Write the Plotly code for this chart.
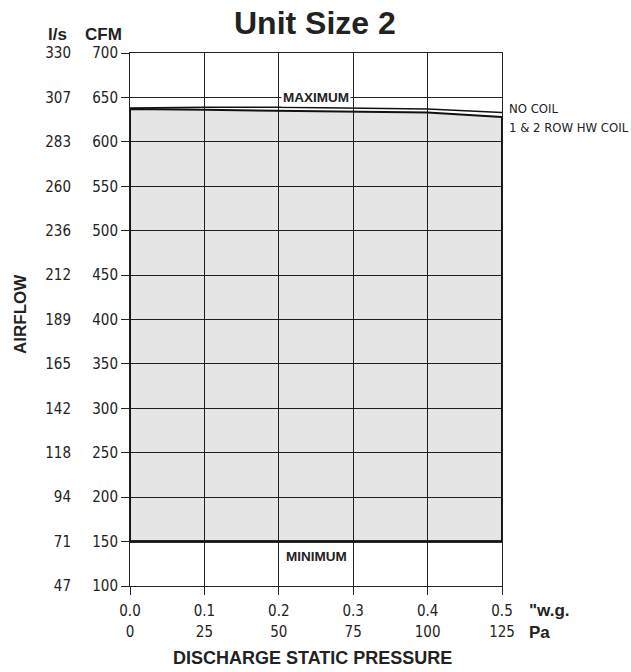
import plotly.graph_objects as go

# ---- data ----
pressure_wg = [0.0, 0.1, 0.2, 0.3, 0.4, 0.5]
pressure_pa_ticks = [0, 25, 50, 75, 100, 125]
no_coil_cfm = [638, 639, 639, 638, 637, 633]
hw_coil_cfm = [637, 636, 635, 634, 633, 628]
minimum_cfm = [150, 150, 150, 150, 150, 150]
cfm_ticks = [100, 150, 200, 250, 300, 350, 400, 450, 500, 550, 600, 650, 700]
ls_ticks = [47, 71, 94, 118, 142, 165, 189, 212, 236, 260, 283, 307, 330]
wg_tick_labels = ["0.0", "0.1", "0.2", "0.3", "0.4", "0.5"]

NARROW = "DejaVu Sans Condensed, Liberation Sans Narrow, sans-serif"
BOLD = "Liberation Sans, Arial, Helvetica, sans-serif"
TXT = "#222222"

FIG_W, FIG_H = 631, 672
ML, MT = 130, 53
MR = FIG_W - 502
MB = FIG_H - 586

fig = go.Figure()

# shaded operating region (closed polygon)
poly_x = [pressure_wg[0]] + pressure_wg + [pressure_wg[-1]] + pressure_wg[::-1]
poly_y = [minimum_cfm[0]] + hw_coil_cfm + [minimum_cfm[-1]] + minimum_cfm[::-1]
fig.add_trace(go.Scatter(x=poly_x, y=poly_y, mode="lines", fill="toself",
                         fillcolor="rgba(0,0,0,0.10)",
                         line=dict(color="#111111", width=2), hoverinfo="skip",
                         showlegend=False))
fig.add_trace(go.Scatter(x=pressure_wg, y=no_coil_cfm, mode="lines",
                         line=dict(color="#111111", width=1.6), showlegend=False))
fig.add_trace(go.Scatter(x=pressure_wg, y=minimum_cfm, mode="lines",
                         line=dict(color="#111111", width=2.5), showlegend=False))
# invisible trace to activate secondary axes
fig.add_trace(go.Scatter(x=[pressure_pa_ticks[0]], y=[cfm_ticks[0]], xaxis="x2", yaxis="y2",
                         mode="markers", marker=dict(opacity=0), showlegend=False,
                         hoverinfo="skip"))

TICKFONT = dict(family=NARROW, size=15, color=TXT)

fig.update_layout(
    width=FIG_W, height=FIG_H,
    margin=dict(l=ML, r=MR, t=MT, b=MB, autoexpand=False),
    paper_bgcolor="white", plot_bgcolor="white",
    showlegend=False,
    xaxis=dict(range=[0, 0.5], tickvals=pressure_wg, ticktext=wg_tick_labels,
               showgrid=True, gridcolor="#222222", gridwidth=1,
               showline=True, linecolor="#222222", linewidth=1, mirror=True,
               ticks="outside", ticklen=8, tickcolor="#222222", ticklabelstandoff=3,
               tickfont=TICKFONT, zeroline=False),
    xaxis2=dict(range=[0, 125], tickvals=pressure_pa_ticks, overlaying="x", anchor="y",
                side="bottom", showgrid=False, showline=False, ticks="",
                ticklabelstandoff=35, tickfont=TICKFONT, zeroline=False),
    yaxis=dict(range=[100, 700], tickvals=cfm_ticks,
               showgrid=True, gridcolor="#222222", gridwidth=1,
               showline=True, linecolor="#222222", linewidth=1, mirror=True,
               ticks="outside", ticklen=8, tickcolor="#222222",
               tickfont=TICKFONT, zeroline=False),
    yaxis2=dict(range=[100, 700], tickvals=cfm_ticks, ticktext=[str(v) for v in ls_ticks],
                overlaying="y", anchor="x", side="left", showgrid=False, showline=False,
                ticks="", ticklabelstandoff=58, tickfont=TICKFONT, zeroline=False),
)


def px_x(px):
    return (px - ML) / (FIG_W - ML - MR)


def px_y(py):
    return 1 - (py - MT) / (FIG_H - MT - MB)


ann = [
    dict(text="<b>MAXIMUM</b>", x=0.25, y=650, xref="x", yref="y", showarrow=False,
         bgcolor="white", font=dict(family=BOLD, size=13.5, color=TXT), borderpad=1),
    dict(text="<b>MINIMUM</b>", x=0.25, y=133, xref="x", yref="y", showarrow=False,
         font=dict(family=BOLD, size=13.5, color=TXT)),
]
extra = [
    ("<b>Unit Size 2</b>", 315, 23, 0, "center", 32, BOLD),
    ("NO COIL", 507, 108, 0, "left", 13, NARROW),
    ("1 & 2 ROW HW COIL", 507, 128, 0, "left", 13, NARROW),
    ("<b>l/s</b>", 57, 34, 0, "center", 17, BOLD),
    ("<b>CFM</b>", 103, 34, 0, "center", 17, BOLD),
    ("<b>\"w.g.</b>", 527, 610, 0, "left", 17, BOLD),
    ("<b>Pa</b>", 527, 632, 0, "left", 17, BOLD),
    ("<b>DISCHARGE STATIC PRESSURE</b>", 312, 658, 0, "center", 18, BOLD),
    ("<b>AIRFLOW</b>", 20, 314, -90, "center", 17, BOLD),
]
for text, px, py, rot, xa, sz, fam in extra:
    ann.append(dict(text=text, x=px_x(px), y=px_y(py), xref="paper",
                    yref="paper", showarrow=False, xanchor=xa, yanchor="middle",
                    textangle=rot, font=dict(family=fam, size=sz, color=TXT)))

fig.update_layout(annotations=ann)
fig.write_html("out.html", config={"displayModeBar": False},
               post_script="document.body.style.margin='0';document.body.style.overflow='hidden';")
